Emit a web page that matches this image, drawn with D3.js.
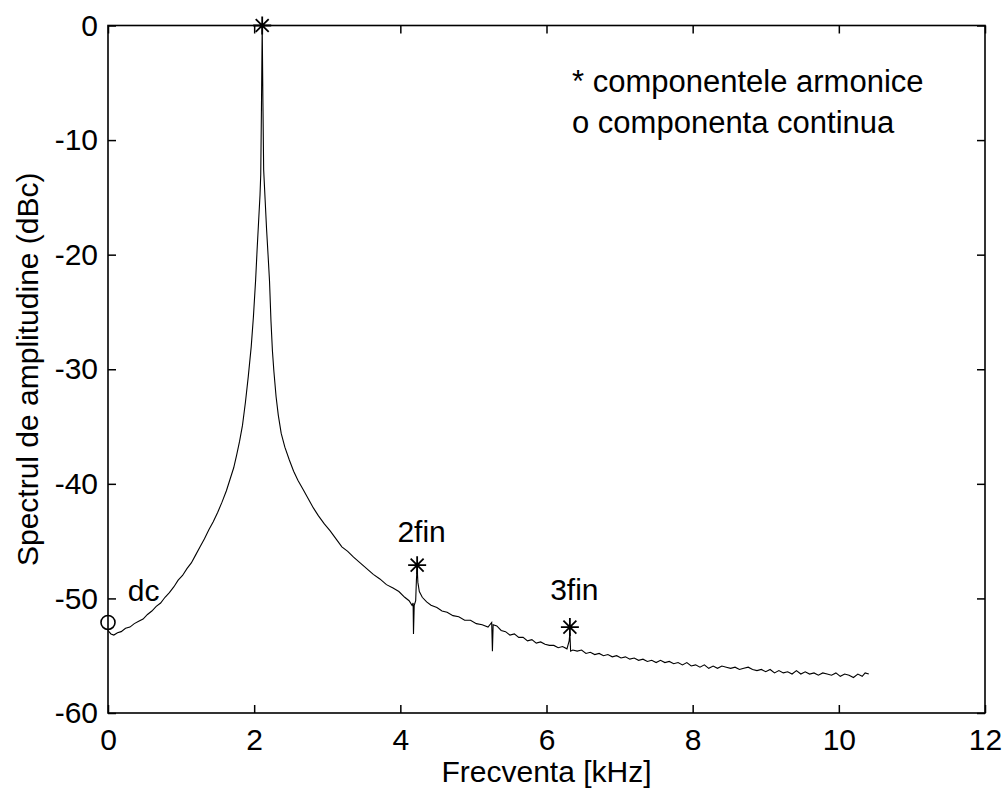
<!DOCTYPE html>
<html>
<head>
<meta charset="utf-8">
<script src="https://cdn.jsdelivr.net/npm/d3@7"></script>
<style>
  html, body { margin: 0; padding: 0; background: #fff; }
  svg { display: block; }
  text { font-family: "Liberation Sans", Arial, Helvetica, sans-serif; fill: #000; }
</style>
</head>
<body>
<svg id="chart" width="1005" height="795"></svg>
<script>
// Amplitude spectrum (dBc) versus frequency (kHz)
const freq = [
  0.00, 0.04, 0.08, 0.13, 0.18, 0.24, 0.30, 0.36, 0.42, 0.48,
  0.54, 0.60, 0.66, 0.72, 0.78, 0.84, 0.90, 0.96, 1.02, 1.08,
  1.14, 1.20, 1.26, 1.32, 1.38, 1.44, 1.50, 1.56, 1.62, 1.67,
  1.72, 1.76, 1.80, 1.84, 1.88, 1.92, 1.96, 1.99, 2.02, 2.04,
  2.06, 2.08, 2.09, 2.10, 2.11, 2.12, 2.13, 2.15, 2.17, 2.19,
  2.21, 2.23, 2.25, 2.27, 2.30, 2.33, 2.37, 2.42, 2.48, 2.54,
  2.60, 2.67, 2.74, 2.81, 2.88, 2.96, 3.04, 3.12, 3.20, 3.28,
  3.36, 3.45, 3.54, 3.63, 3.72, 3.81, 3.90, 3.98, 4.06, 4.12,
  4.16, 4.175, 4.18, 4.19, 4.21, 4.22, 4.23, 4.24, 4.26, 4.30,
  4.36, 4.42, 4.50, 4.57, 4.64, 4.72, 4.80, 4.88, 4.96, 5.04,
  5.12, 5.20, 5.25, 5.26, 5.27, 5.32, 5.38, 5.44, 5.50, 5.56,
  5.62, 5.68, 5.74, 5.80, 5.86, 5.92, 5.98, 6.04, 6.10, 6.16,
  6.22, 6.28, 6.31, 6.32, 6.33, 6.36, 6.42, 6.48, 6.54, 6.60,
  6.66, 6.72, 6.78, 6.84, 6.90, 6.96, 7.02, 7.08, 7.14, 7.20,
  7.26, 7.32, 7.38, 7.44, 7.50, 7.56, 7.62, 7.68, 7.74, 7.80,
  7.86, 7.92, 7.98, 8.04, 8.10, 8.16, 8.22, 8.28, 8.34, 8.40,
  8.46, 8.52, 8.58, 8.64, 8.70, 8.76, 8.82, 8.88, 8.94, 9.00,
  9.06, 9.12, 9.18, 9.24, 9.30, 9.36, 9.42, 9.48, 9.54, 9.60,
  9.66, 9.72, 9.78, 9.84, 9.90, 9.96, 10.02, 10.08, 10.14, 10.20,
  10.26, 10.32, 10.36, 10.41
];
const amp = [
  -52.8, -53.1, -53.2, -53.0, -52.9, -52.6, -52.5, -52.2, -52.0, -51.8,
  -51.4, -51.1, -50.7, -50.4, -49.9, -49.5, -49.0, -48.4, -48.0, -47.4,
  -46.9, -46.2, -45.5, -44.8, -44.0, -43.3, -42.5, -41.6, -40.6, -39.6,
  -38.6, -37.5, -36.3, -34.9, -32.9, -30.6, -28.0, -25.4, -22.2, -19.6,
  -17.2, -14.8, -13.0, -7.0, 0.0, -6.8, -12.6, -15.2, -17.8, -20.0,
  -22.3, -25.8, -28.4, -30.2, -32.4, -34.0, -35.6, -36.8, -37.9, -38.9,
  -39.7, -40.5, -41.3, -42.1, -42.8, -43.5, -44.1, -44.8, -45.5, -45.9,
  -46.4, -46.9, -47.4, -47.9, -48.3, -48.8, -49.1, -49.4, -49.9, -50.2,
  -50.6, -50.4, -53.1, -50.6, -50.2, -48.4, -47.2, -48.6, -49.4, -49.9,
  -50.3, -50.6, -50.8, -51.1, -51.2, -51.5, -51.6, -51.9, -51.9, -52.2,
  -52.3, -52.5, -52.1, -54.6, -52.3, -52.4, -52.8, -52.9, -53.2, -53.1,
  -53.4, -53.4, -53.7, -53.6, -53.9, -53.8, -54.0, -54.1, -54.1, -54.3,
  -54.2, -54.4, -53.7, -53.0, -54.6, -54.5, -54.6, -54.5, -54.8, -54.7,
  -54.9, -54.8, -55.0, -54.9, -55.1, -55.0, -55.2, -55.1, -55.3, -55.2,
  -55.4, -55.3, -55.5, -55.4, -55.6, -55.4, -55.6, -55.5, -55.7, -55.6,
  -55.8, -55.6, -55.9, -55.8, -56.0, -55.8, -56.1, -55.9, -56.1, -55.9,
  -56.0, -56.1, -56.0, -56.2, -56.1, -56.0, -56.2, -56.3, -56.2, -56.4,
  -56.2, -56.5, -56.3, -56.5, -56.4, -56.6, -56.3, -56.6, -56.4, -56.6,
  -56.5, -56.7, -56.5, -56.6, -56.7, -56.5, -56.8, -56.6, -56.7, -56.9,
  -56.6, -56.8, -56.5, -56.6
];

// Harmonic components (marked with *) and the DC component (marked with o)
const harmonicFreq = [2.11, 4.23, 6.32];
const harmonicAmp = [0.0, -47.1, -52.5];
const dcFreq = [0.0];
const dcAmp = [-52.1];

// Annotations placed next to the marks
const noteText = ["dc", "2fin", "3fin"];
const noteFreq = [0.27, 3.96, 6.05];
const noteAmp = [-50.2, -45.1, -50.1];

const legendLines = ["* componentele armonice", "o componenta continua"];

const xTicks = [0, 2, 4, 6, 8, 10, 12];
const yTicks = [0, -10, -20, -30, -40, -50, -60];

const svg = d3.select("#chart");
const plotLeft = 108, plotRight = 985, plotTop = 25.5, plotBottom = 713;

const x = d3.scaleLinear().domain([0, 12]).range([plotLeft, plotRight]);
const y = d3.scaleLinear().domain([-60, 0]).range([plotBottom, plotTop]);

const fontSize = 30;

// Spectrum trace
const pts = freq.map((f, i) => [f, amp[i]]);
svg.append("path")
  .datum(pts)
  .attr("fill", "none")
  .attr("stroke", "#000")
  .attr("stroke-width", 1.1)
  .attr("d", d3.line().x(d => x(d[0])).y(d => y(d[1])));

// Axes (ticks pointing inward, full box)
function styleAxis(g) {
  g.select(".domain").remove();
  g.selectAll(".tick line").attr("stroke", "#000").attr("stroke-width", 1.5);
  g.selectAll(".tick text")
    .style("font-family", "'Liberation Sans', Arial, sans-serif")
    .style("font-size", fontSize + "px")
    .attr("fill", "#000");
}

// plain ASCII hyphen for negative numbers
const plainNum = d => String(d);

svg.append("g")
  .attr("transform", `translate(0,${plotBottom})`)
  .call(d3.axisBottom(x).tickValues(xTicks).tickSize(-8).tickPadding(16).tickFormat(plainNum))
  .call(styleAxis);

svg.append("g")
  .attr("transform", `translate(0,${plotTop})`)
  .call(d3.axisTop(x).tickValues(xTicks).tickSize(-8).tickFormat(""))
  .call(styleAxis);

svg.append("g")
  .attr("transform", `translate(${plotLeft},0)`)
  .call(d3.axisLeft(y).tickValues(yTicks).tickSize(-8).tickPadding(10).tickFormat(plainNum))
  .call(styleAxis);

svg.append("g")
  .attr("transform", `translate(${plotRight},0)`)
  .call(d3.axisRight(y).tickValues(yTicks).tickSize(-8).tickFormat(""))
  .call(styleAxis);

// Frame
svg.append("rect")
  .attr("x", plotLeft).attr("y", plotTop)
  .attr("width", plotRight - plotLeft).attr("height", plotBottom - plotTop)
  .attr("fill", "none").attr("stroke", "#000").attr("stroke-width", 1.6);

// Star markers
const r = 9, rd = r * 0.72;
const starPath = `M${-r},0H${r}M0,${-r}V${r}M${-rd},${-rd}L${rd},${rd}M${-rd},${rd}L${rd},${-rd}`;
svg.selectAll(".harm")
  .data(harmonicFreq.map((f, i) => [f, harmonicAmp[i]]))
  .join("path")
  .attr("class", "harm")
  .attr("transform", d => `translate(${x(d[0])},${y(d[1])})`)
  .attr("d", starPath)
  .attr("fill", "none")
  .attr("stroke", "#000")
  .attr("stroke-width", 1.8);

// Circle marker for DC
svg.selectAll(".dc")
  .data(dcFreq.map((f, i) => [f, dcAmp[i]]))
  .join("circle")
  .attr("class", "dc")
  .attr("cx", d => x(d[0]))
  .attr("cy", d => y(d[1]))
  .attr("r", 7)
  .attr("fill", "none")
  .attr("stroke", "#000")
  .attr("stroke-width", 1.6);

// Annotations
svg.selectAll(".note")
  .data(noteText.map((t, i) => ({ t, f: noteFreq[i], a: noteAmp[i] })))
  .join("text")
  .attr("class", "note")
  .attr("x", d => x(d.f))
  .attr("y", d => y(d.a))
  .style("font-size", fontSize + "px")
  .text(d => d.t);

// Legend text
svg.selectAll(".legend")
  .data(legendLines)
  .join("text")
  .attr("class", "legend")
  .attr("x", 572)
  .attr("y", (d, i) => 92 + i * 41)
  .style("font-size", "31px")
  .text(d => d);

// Axis labels
svg.append("text")
  .attr("x", (plotLeft + plotRight) / 2)
  .attr("y", 782)
  .attr("text-anchor", "middle")
  .style("font-size", fontSize + "px")
  .text("Frecventa [kHz]");

svg.append("text")
  .attr("transform", `translate(38,${(plotTop + plotBottom) / 2}) rotate(-90)`)
  .attr("text-anchor", "middle")
  .style("font-size", fontSize + "px")
  .text("Spectrul de amplitudine (dBc)");
</script>
</body>
</html>
